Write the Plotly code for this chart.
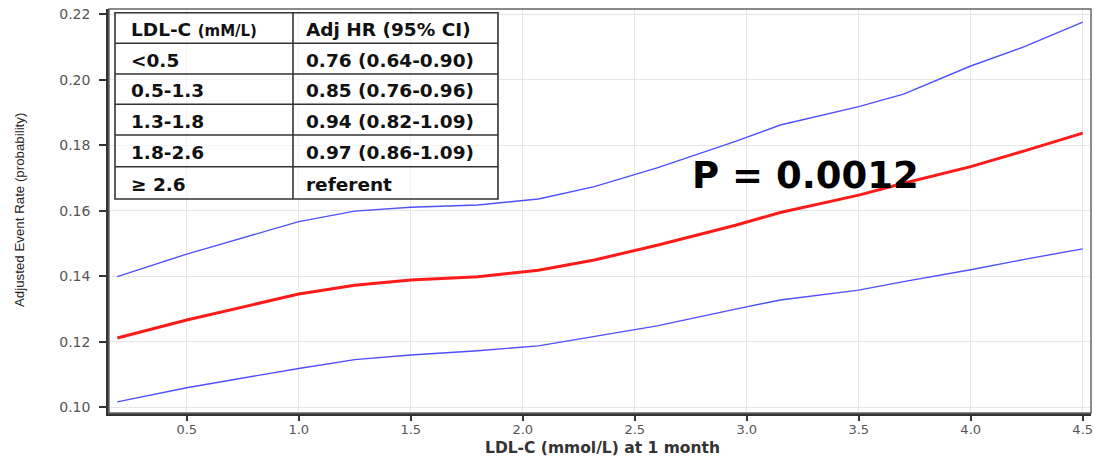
import plotly.graph_objects as go

# ---- data ----
ldl_x = [0.19, 0.5, 1.0, 1.25, 1.5, 1.8, 2.07, 2.32, 2.6, 2.95, 3.15, 3.5, 3.7, 4.0, 4.24, 4.5]
rate_est = [0.1212, 0.1267, 0.1346, 0.1373, 0.1389, 0.1399, 0.1419, 0.1450, 0.1495, 0.1556,
            0.1595, 0.1648, 0.1684, 0.1735, 0.1783, 0.1837]
rate_upper = [0.1399, 0.1468, 0.1567, 0.1599, 0.1611, 0.1618, 0.1636, 0.1674, 0.1731, 0.1812,
              0.1862, 0.1918, 0.1956, 0.2042, 0.2101, 0.2176]
rate_lower = [0.1017, 0.1060, 0.1119, 0.1146, 0.1160, 0.1173, 0.1188, 0.1216, 0.1249, 0.1300,
              0.1328, 0.1358, 0.1384, 0.1420, 0.1452, 0.1484]

x_ticks = [0.5, 1.0, 1.5, 2.0, 2.5, 3.0, 3.5, 4.0, 4.5]
y_ticks = [0.10, 0.12, 0.14, 0.16, 0.18, 0.20, 0.22]

table_header = ["LDL-C <span style='font-size:15px'>(mM/L)</span>", "Adj HR (95% CI)"]
table_ldl = ["&lt;0.5", "0.5-1.3", "1.3-1.8", "1.8-2.6", "≥ 2.6"]
table_hr = ["0.76 (0.64-0.90)", "0.85 (0.76-0.96)", "0.94 (0.82-1.09)", "0.97 (0.86-1.09)", "referent"]

p_text = "P = 0.0012"
x_title = "LDL-C (mmol/L) at 1 month"
y_title = "Adjusted Event Rate (probability)"

# ---- layout geometry ----
W, H = 1094, 457
L, R, T, B = 109, 3, 9, 44
PW, PH = W - L - R, H - T - B


def px(xp):
    return (xp - L) / PW


def py(yp):
    return (H - B - yp) / PH


fig = go.Figure()
fig.add_trace(go.Scatter(x=ldl_x, y=rate_upper, mode="lines",
                         line=dict(color="#4f4fff", width=1.4), showlegend=False))
fig.add_trace(go.Scatter(x=ldl_x, y=rate_lower, mode="lines",
                         line=dict(color="#4f4fff", width=1.4), showlegend=False))
fig.add_trace(go.Scatter(x=ldl_x, y=rate_est, mode="lines",
                         line=dict(color="#ff1a1a", width=3), showlegend=False))

shapes = []
annotations = []

# plot frame
shapes.append(dict(type="rect", xref="paper", yref="paper", x0=0, x1=1, y0=0, y1=1,
                   line=dict(color="#666666", width=1.5), layer="above"))

# table
tx0, tx1, tdiv = 115, 498, 293
ty = [12.7, 43.3, 74, 104.3, 135, 166.7, 199]
shapes.append(dict(type="rect", xref="paper", yref="paper",
                   x0=px(tx0), x1=px(tx1), y0=py(ty[-1]), y1=py(ty[0]),
                   line=dict(color="#333333", width=1.6),
                   fillcolor="rgba(255,255,255,0.6)", layer="above"))
shapes.append(dict(type="line", xref="paper", yref="paper",
                   x0=px(tdiv), x1=px(tdiv), y0=py(ty[-1]), y1=py(ty[0]),
                   line=dict(color="#333333", width=1.6), layer="above"))
for yy in ty[1:-1]:
    shapes.append(dict(type="line", xref="paper", yref="paper",
                       x0=px(tx0), x1=px(tx1), y0=py(yy), y1=py(yy),
                       line=dict(color="#333333", width=1.6), layer="above"))

cell_font = dict(family="DejaVu Sans", size=18.5, color="#111111")
rows_c1 = [table_header[0]] + table_ldl
rows_c2 = [table_header[1]] + table_hr
for i in range(len(rows_c1)):
    yc = (ty[i] + ty[i + 1]) / 2 + 1.5
    annotations.append(dict(xref="paper", yref="paper", x=px(129), y=py(yc),
                            text="<b>" + rows_c1[i] + "</b>",
                            showarrow=False, xanchor="left", yanchor="middle", font=cell_font))
    annotations.append(dict(xref="paper", yref="paper", x=px(304), y=py(yc),
                            text="<b>" + rows_c2[i] + "</b>",
                            showarrow=False, xanchor="left", yanchor="middle", font=cell_font))

# P value
annotations.append(dict(xref="paper", yref="paper", x=px(690), y=py(175),
                        text="<b>" + p_text + "</b>", showarrow=False,
                        xanchor="left", yanchor="middle",
                        font=dict(family="DejaVu Sans", size=37, color="#000000")))

# axis titles
annotations.append(dict(xref="paper", yref="paper", x=px(602), y=py(448),
                        text="<b>" + x_title + "</b>", showarrow=False,
                        xanchor="center", yanchor="middle",
                        font=dict(family="DejaVu Sans", size=15.5, color="#333333")))
annotations.append(dict(xref="paper", yref="paper", x=px(19), y=py(210),
                        text=y_title, showarrow=False,
                        textangle=-90, xanchor="center", yanchor="middle",
                        font=dict(family="Liberation Sans", size=13.3, color="#222222")))

fig.update_layout(
    width=W, height=H,
    margin=dict(l=L, r=R, t=T, b=B, autoexpand=False),
    paper_bgcolor="white", plot_bgcolor="white",
    shapes=shapes, annotations=annotations,
    xaxis=dict(range=[0.153, 4.537], tickvals=x_ticks, ticktext=[f"{v:.1f}" for v in x_ticks],
               automargin=False,
               showgrid=True, gridcolor="#e6e6e6", gridwidth=1, zeroline=False,
               showline=True, linecolor="#333333", linewidth=2.5,
               ticks="outside", ticklen=5, tickwidth=1.5, tickcolor="#333333",
               ticklabelstandoff=-2,
               tickfont=dict(family="DejaVu Sans", size=13, color="#555555")),
    yaxis=dict(range=[0.0983, 0.2216], tickvals=y_ticks, ticktext=[f"{v:.2f}" for v in y_ticks],
               automargin=False,
               showgrid=True, gridcolor="#e6e6e6", gridwidth=1, zeroline=False,
               showline=True, linecolor="#333333", linewidth=2.5,
               ticks="outside", ticklen=7, tickwidth=1.5, tickcolor="#333333",
               ticklabelstandoff=6,
               tickfont=dict(family="DejaVu Sans", size=14, color="#555555")),
)

fig.write_html("out.html")
